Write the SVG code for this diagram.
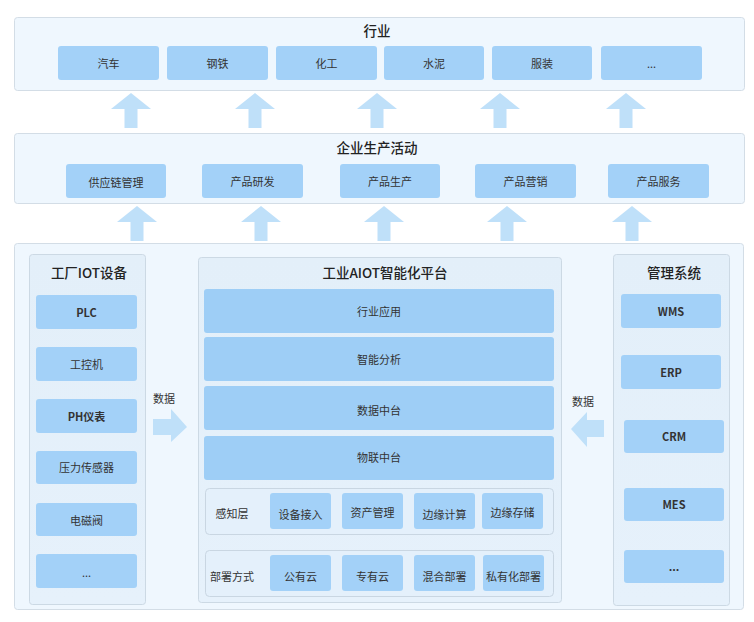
<svg xmlns="http://www.w3.org/2000/svg" width="754" height="622" viewBox="0 0 754 622">
<defs>
<linearGradient id="colg" x1="0" y1="0" x2="0" y2="1"><stop offset="0" stop-color="#e3eff9"/><stop offset="1" stop-color="#e6f1fb"/></linearGradient>
<path id="up" d="M0,0 L20,16 L6.5,16 L6.5,35 L-6.5,35 L-6.5,16 L-20,16 Z"/>
</defs>
<style>
.panel{fill:#eff7fe;stroke:#d3dde6;stroke-width:1}
.col{fill:url(#colg);stroke:#ccd9e4;stroke-width:1}
.box{fill:#a3d1f8}
.bar{fill:#9ecef6}
.grp{fill:#e4f0fb;stroke:#c9d6e2;stroke-width:1}
.arr{fill:#bfe0f9}
text{font-family:"Noto Sans CJK SC","Liberation Sans",sans-serif;fill:#333;text-anchor:middle;dominant-baseline:central}
.t{font-size:11px}
.h{font-size:13.5px;font-weight:500;fill:#222}
.b{font-size:11px;font-weight:bold}
</style>
<rect width="754" height="622" fill="#ffffff"/>

<g id="industry">
<rect class="panel" x="14.5" y="17.5" width="730" height="73" rx="3"/>
<text class="h" x="377" y="30">行业</text>
<g id="ind-1"><rect class="box" x="58" y="46" width="101" height="34" rx="3"/><text class="t" x="108.5" y="63">汽车</text></g>
<g id="ind-2"><rect class="box" x="167" y="46" width="101" height="34" rx="3"/><text class="t" x="217.5" y="63">钢铁</text></g>
<g id="ind-3"><rect class="box" x="276" y="46" width="101" height="34" rx="3"/><text class="t" x="326.5" y="63">化工</text></g>
<g id="ind-4"><rect class="box" x="384" y="46" width="100" height="34" rx="3"/><text class="t" x="434" y="63">水泥</text></g>
<g id="ind-5"><rect class="box" x="492" y="46" width="100" height="34" rx="3"/><text class="t" x="542" y="63">服装</text></g>
<g id="ind-6"><rect class="box" x="601" y="46" width="101" height="34" rx="3"/><text class="t" x="651.5" y="63">...</text></g>
</g>

<g id="activity">
<rect class="panel" x="14.5" y="133.5" width="730" height="70" rx="3"/>
<text class="h" x="377" y="147">企业生产活动</text>
<g id="act-1"><rect class="box" x="66" y="164" width="100" height="34" rx="3"/><text class="t" x="116" y="182">供应链管理</text></g>
<g id="act-2"><rect class="box" x="202" y="164" width="101" height="34" rx="3"/><text class="t" x="252.5" y="181">产品研发</text></g>
<g id="act-3"><rect class="box" x="340" y="164" width="100" height="34" rx="3"/><text class="t" x="390" y="181">产品生产</text></g>
<g id="act-4"><rect class="box" x="475" y="164" width="101" height="34" rx="3"/><text class="t" x="525.5" y="181">产品营销</text></g>
<g id="act-5"><rect class="box" x="608" y="164" width="101" height="34" rx="3"/><text class="t" x="658.5" y="181">产品服务</text></g>
</g>

<g id="base">
<rect class="panel" x="14.5" y="243.5" width="729" height="366" rx="3"/>
</g>

<g id="iot">
<rect class="col" x="29.5" y="254.5" width="116" height="350" rx="3"/>
<text class="h" x="89" y="272">工厂IOT设备</text>
<g id="iot-1"><rect class="box" x="36" y="295" width="101" height="34" rx="3"/><text class="b" x="86.5" y="312">PLC</text></g>
<g id="iot-2"><rect class="box" x="36" y="347" width="101" height="34" rx="3"/><text class="t" x="86.5" y="364">工控机</text></g>
<g id="iot-3"><rect class="box" x="36" y="399" width="101" height="34" rx="3"/><text class="b" x="86.5" y="416">PH仪表</text></g>
<g id="iot-4"><rect class="box" x="36" y="451" width="101" height="33" rx="3"/><text class="t" x="86.5" y="467">压力传感器</text></g>
<g id="iot-5"><rect class="box" x="36" y="503" width="101" height="33" rx="3"/><text class="t" x="86.5" y="520">电磁阀</text></g>
<g id="iot-6"><rect class="box" x="36" y="554" width="101" height="34" rx="3"/><text class="t" x="86.5" y="572" fill="#666">...</text></g>
</g>

<g id="platform">
<rect class="col" x="198.5" y="257.5" width="363" height="345" rx="3"/>
<text class="h" x="385" y="272">工业AIOT智能化平台</text>
<g id="p-app"><rect class="bar" x="204" y="289" width="350" height="44" rx="3"/><text class="t" x="379" y="311">行业应用</text></g>
<g id="p-ai"><rect class="bar" x="204" y="337" width="350" height="44" rx="3"/><text class="t" x="379" y="359">智能分析</text></g>
<g id="p-data"><rect class="bar" x="204" y="386" width="350" height="44" rx="3"/><text class="t" x="379" y="410">数据中台</text></g>
<g id="p-iot"><rect class="bar" x="204" y="436" width="350" height="44" rx="3"/><text class="t" x="379" y="457">物联中台</text></g>
<g id="sense">
<rect class="grp" x="205.5" y="488.5" width="348" height="46" rx="4"/>
<text class="t" x="232" y="513">感知层</text>
<g id="s-1"><rect class="box" x="270" y="493" width="61" height="36" rx="3"/><text class="t" x="300.5" y="514">设备接入</text></g>
<g id="s-2"><rect class="box" x="342" y="493" width="61" height="36" rx="3"/><text class="t" x="372.5" y="512">资产管理</text></g>
<g id="s-3"><rect class="box" x="414" y="493" width="61" height="36" rx="3"/><text class="t" x="444.5" y="514">边缘计算</text></g>
<g id="s-4"><rect class="box" x="482" y="493" width="61" height="36" rx="3"/><text class="t" x="512.5" y="512">边缘存储</text></g>
</g>
<g id="deploy">
<rect class="grp" x="205.5" y="550.5" width="348" height="46" rx="4"/>
<text class="t" x="232" y="576">部署方式</text>
<g id="d-1"><rect class="box" x="270" y="555" width="61" height="36" rx="3"/><text class="t" x="300.5" y="576">公有云</text></g>
<g id="d-2"><rect class="box" x="342" y="555" width="61" height="36" rx="3"/><text class="t" x="372.5" y="576">专有云</text></g>
<g id="d-3"><rect class="box" x="414" y="555" width="61" height="36" rx="3"/><text class="t" x="444.5" y="576">混合部署</text></g>
<g id="d-4"><rect class="box" x="483" y="555" width="61" height="36" rx="3"/><text class="t" x="513.5" y="576">私有化部署</text></g>
</g>
</g>

<g id="mgmt">
<rect class="col" x="613.5" y="254.5" width="116" height="351" rx="3"/>
<text class="h" x="674" y="272">管理系统</text>
<g id="m-1"><rect class="box" x="621" y="294" width="100" height="34" rx="3"/><text class="b" x="671" y="311">WMS</text></g>
<g id="m-2"><rect class="box" x="621" y="355" width="100" height="34" rx="3"/><text class="b" x="671" y="372">ERP</text></g>
<g id="m-3"><rect class="box" x="624" y="420" width="100" height="33" rx="3"/><text class="b" x="674" y="436">CRM</text></g>
<g id="m-4"><rect class="box" x="624" y="488" width="100" height="33" rx="3"/><text class="b" x="674" y="504">MES</text></g>
<g id="m-5"><rect class="box" x="624" y="550" width="100" height="33" rx="3"/><text class="b" x="674" y="566">...</text></g>
</g>

<g id="connectors">
<use href="#up" class="arr" x="131" y="93"/>
<use href="#up" class="arr" x="255" y="93"/>
<use href="#up" class="arr" x="377" y="93"/>
<use href="#up" class="arr" x="500" y="93"/>
<use href="#up" class="arr" x="626" y="93"/>
<use href="#up" class="arr" x="137" y="206"/>
<use href="#up" class="arr" x="261" y="206"/>
<use href="#up" class="arr" x="384" y="206"/>
<use href="#up" class="arr" x="507" y="206"/>
<use href="#up" class="arr" x="632" y="206"/>
<path class="arr" d="M153,419 L171,419 L171,409 L187,427 L171,442 L171,435 L153,435 Z"/>
<text class="t" x="164" y="398">数据</text>
<path class="arr" d="M604,420 L587,420 L587,412 L571,429 L587,447 L587,437 L604,437 Z"/>
<text class="t" x="583" y="401">数据</text>
</g>
</svg>
